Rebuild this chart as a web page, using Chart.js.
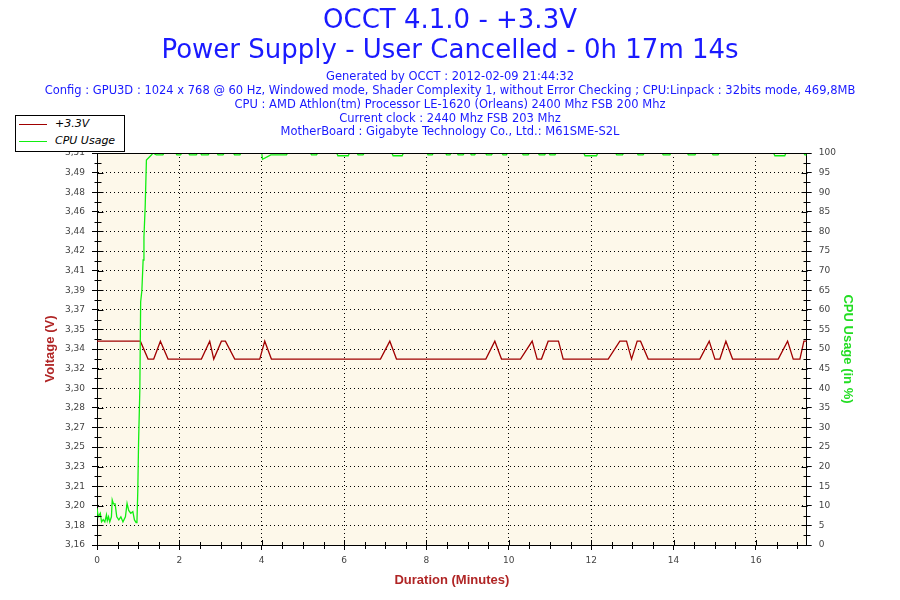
<!DOCTYPE html>
<html>
<head>
<meta charset="utf-8">
<title>OCCT 4.1.0 - +3.3V</title>
<script src="https://cdn.jsdelivr.net/npm/chart.js@4.4.1/dist/chart.umd.min.js"></script>
<style>
  body { margin: 0; background: #fff; }
  #wrap { position: relative; width: 900px; height: 600px; }
  #chart { display: block; background: #fff; }
  #legend {
    position: absolute; left: 15px; top: 115px; width: 108px; height: 35px;
    border: 1px solid #000; background: #fff;
    font: italic 11px "DejaVu Sans", sans-serif; color: #000;
  }
  #legend .row { position: absolute; left: 0; width: 100%; height: 17px; }
  #legend .swatch { position: absolute; left: 3px; top: 8px; width: 28px; height: 1px; }
  #legend .lbl { position: absolute; left: 39px; top: 1px; white-space: nowrap; }
</style>
</head>
<body>
<div id="wrap">
  <canvas id="chart" width="900" height="600"></canvas>
  <div id="legend"></div>
</div>
<script>
// ---- data ----
const titleLines = ['OCCT 4.1.0 - +3.3V', 'Power Supply - User Cancelled - 0h 17m 14s'];
const infoLines = [
  'Generated by OCCT : 2012-02-09 21:44:32',
  'Config : GPU3D : 1024 x 768 @ 60 Hz, Windowed mode, Shader Complexity 1, without Error Checking ; CPU:Linpack : 32bits mode, 469,8MB',
  'CPU : AMD Athlon(tm) Processor LE-1620 (Orleans) 2400 Mhz FSB 200 Mhz',
  'Current clock : 2440 Mhz FSB 203 Mhz',
  'MotherBoard : Gigabyte Technology Co., Ltd.: M61SME-S2L'
];

const durationMax = 17.233; // 17m 14s

const voltTickLabels = ['3,16', '3,18', '3,20', '3,21', '3,23', '3,25', '3,27', '3,28', '3,30', '3,32', '3,34',
  '3,35', '3,37', '3,39', '3,41', '3,42', '3,44', '3,46', '3,48', '3,49', '3,51'];

// +3.3V rail (V) against duration (minutes)
const voltTimes = [0, 1.053, 1.240, 1.377, 1.539, 1.725, 2.535, 2.737, 2.835, 3.021, 3.118, 3.345,
  3.952, 4.073, 4.235, 6.883, 7.110, 7.272, 9.441, 9.660, 9.822, 10.283, 10.567, 10.688, 10.793,
  10.955, 11.206, 11.320, 12.413, 12.696, 12.858, 12.980, 13.117, 13.198, 13.384, 14.639, 14.866,
  15.004, 15.125, 15.271, 15.433, 16.542, 16.769, 16.906, 17.068, 17.165, 17.233];
const voltValues = [3.342, 3.342, 3.326, 3.326, 3.342, 3.326, 3.326, 3.342, 3.326, 3.342, 3.342, 3.326,
  3.326, 3.342, 3.326, 3.326, 3.342, 3.326, 3.326, 3.342, 3.326, 3.326, 3.342, 3.326, 3.326,
  3.342, 3.342, 3.326, 3.326, 3.342, 3.342, 3.326, 3.342, 3.342, 3.326, 3.326, 3.342,
  3.326, 3.326, 3.342, 3.326, 3.326, 3.342, 3.326, 3.326, 3.342, 3.342];

// CPU usage (%) against duration (minutes)
const cpuTimes = [0, 0.03, 0.08, 0.11, 0.15, 0.19, 0.23, 0.25, 0.28, 0.31, 0.35, 0.37, 0.40, 0.44, 0.48,
  0.53, 0.58, 0.63, 0.69, 0.73, 0.77, 0.82, 0.87, 0.91, 0.95, 0.97, 0.99, 1.01, 1.04, 1.06, 1.09,
  1.12, 1.14, 1.17, 1.20, 1.32, 1.36,
  1.44, 1.60, 1.63, 1.91, 1.94, 2.03, 2.06, 2.22, 2.25, 2.41, 2.44, 2.51, 2.54, 2.70, 2.73,
  2.91, 2.94, 3.06, 3.09, 3.31, 3.34, 3.47, 3.50, 4.00, 4.02, 4.22, 4.60, 4.63,
  5.18, 5.21, 5.33, 5.36, 5.82, 5.85, 6.10, 6.13, 6.31, 6.34, 6.46, 6.49,
  7.16, 7.19, 7.41, 7.44, 8.01, 8.04, 8.14, 8.17, 8.46, 8.49, 8.57, 8.60,
  8.74, 8.77, 8.89, 8.92, 9.06, 9.09, 9.17, 9.20, 9.43, 9.46, 9.58, 9.61,
  9.83, 9.86, 9.94, 9.97, 10.32, 10.35, 10.47, 10.50, 10.71, 10.74, 10.87, 10.90,
  10.97, 11.00, 11.12, 11.15, 11.82, 11.85, 12.13, 12.16, 12.59, 12.62, 12.76, 12.79,
  13.11, 13.14, 13.26, 13.29, 13.72, 13.75, 13.91, 13.94, 14.33, 14.36, 14.52, 14.55,
  14.93, 14.96, 15.08, 15.11, 16.43, 16.46, 16.70, 16.73, 17.16, 17.19, 17.233];
const cpuValues = [9.4, 7.2, 8.1, 5.9, 6.5, 5.9, 7.7, 6.2, 7.2, 5.9, 7.2, 11.5, 10.5, 10.5, 7.2,
  6.4, 7.2, 5.9, 7.2, 10.6, 8.8, 8.1, 8.5, 6.4, 5.7, 5.9, 13.6, 26.4, 39.5, 62, 65,
  72.7, 78.6, 86.3, 98.2, 99.5, 100,
  99.5, 99.5, 100, 100, 99.5, 99.5, 100, 100, 99.5, 99.5, 100, 100, 99.5, 99.5, 100,
  100, 99.5, 99.5, 100, 100, 99.5, 99.5, 100, 100, 98.4, 99.5, 99.5, 100,
  100, 99.5, 99.5, 100, 100, 99.3, 99.3, 100, 100, 99.5, 99.5, 100,
  100, 99.3, 99.3, 100, 100, 99.5, 99.5, 100, 100, 99.5, 99.5, 100,
  100, 99.5, 99.5, 100, 100, 99.5, 99.5, 100, 100, 99.5, 99.5, 100,
  100, 99.5, 99.5, 100, 100, 99.5, 99.5, 100, 100, 99.5, 99.5, 100,
  100, 99.5, 99.5, 100, 100, 99.3, 99.3, 100, 100, 99.5, 99.5, 100,
  100, 99.5, 99.5, 100, 100, 99.5, 99.5, 100, 100, 99.5, 99.5, 100,
  100, 99.5, 99.5, 100, 100, 99.3, 99.3, 100, 100, 99.5, 99.5];

// ---- styling ----
const titleBlue = '#1a1aff';
const voltColor = '#a00000';
const cpuColor = '#11ee11';
const voltTitleColor = '#b02525';
const cpuTitleColor = '#22dd22';
const plotBg = '#fdf8ea';
const tickFont = { family: 'DejaVu Sans', size: 9 };
const axisTitleFont = { family: 'Liberation Sans', size: 13, weight: 'bold' };

// plot background, top frame line and the inner/minor tick marks
const frame = {
  id: 'frame',
  beforeDraw(chart) {
    const { ctx, chartArea: a } = chart;
    ctx.save();
    ctx.fillStyle = plotBg;
    ctx.fillRect(a.left, a.top, a.right - a.left, a.bottom - a.top);
    ctx.restore();
  },
  afterDatasetsDraw(chart) {
    const { ctx, chartArea: a, scales } = chart;
    const px = v => Math.round(v) + 0.5;
    ctx.save();
    ctx.strokeStyle = '#000';
    ctx.lineWidth = 1;
    ctx.beginPath();
    ctx.moveTo(a.left, px(a.top));
    ctx.lineTo(a.right + 1, px(a.top));

    // vertical axes: major ticks poke 6px inward, minor ticks halfway between
    const yTicks = (scale, edge, dir) => {
      const t = scale.ticks;
      t.forEach((tk, i) => {
        const y = px(scale.getPixelForValue(tk.value));
        ctx.moveTo(edge, y);
        ctx.lineTo(edge + dir * 6, y);
        if (i < t.length - 1) {
          const ym = px(scale.getPixelForValue((tk.value + t[i + 1].value) / 2));
          ctx.moveTo(edge - dir * 3, ym);
          ctx.lineTo(edge + dir * 4, ym);
        }
      });
    };
    yTicks(scales.volt, px(a.left), 1);
    yTicks(scales.cpu, px(a.right), -1);

    // x axis: majors every 2 min poke up, minors every half minute
    const xs = scales.x;
    xs.ticks.forEach(tk => {
      const x = px(xs.getPixelForValue(tk.value));
      ctx.moveTo(x, a.bottom);
      ctx.lineTo(x, a.bottom - 5);
    });
    for (let m = 0.5; m < xs.max; m += 0.5) {
      if (m % 2 === 0) continue;
      const x = px(xs.getPixelForValue(m));
      ctx.moveTo(x, a.bottom - 3);
      ctx.lineTo(x, a.bottom + 4);
    }
    ctx.stroke();
    ctx.restore();
  }
};

const ctx = document.getElementById('chart').getContext('2d');
const chart = new Chart(ctx, {
  type: 'line',
  data: {
    datasets: [{
      label: '+3.3V',
      data: voltTimes.map((t, i) => ({ x: t, y: voltValues[i] })),
      yAxisID: 'volt',
      borderColor: voltColor,
      borderWidth: 1.3,
      pointRadius: 0,
      tension: 0,
      order: 2
    }, {
      label: 'CPU Usage',
      data: cpuTimes.map((t, i) => ({ x: t, y: cpuValues[i] })),
      yAxisID: 'cpu',
      borderColor: cpuColor,
      borderWidth: 1.3,
      pointRadius: 0,
      tension: 0,
      order: 1
    }]
  },
  options: {
    responsive: false,
    animation: false,
    devicePixelRatio: 1,
    layout: { padding: 0 },
    plugins: {
      legend: { display: false },
      tooltip: { enabled: false },
      title: {
        display: true,
        text: titleLines,
        color: titleBlue,
        font: { family: 'DejaVu Sans', size: 26, weight: 'normal', lineHeight: '30px' },
        padding: { top: 6, bottom: 0 }
      },
      subtitle: {
        display: true,
        text: infoLines,
        color: titleBlue,
        font: { family: 'DejaVu Sans', size: 11.5, lineHeight: '13.75px' },
        padding: { top: 4.4, bottom: 13.85 }
      }
    },
    scales: {
      x: {
        type: 'linear',
        min: 0,
        max: durationMax,
        ticks: { stepSize: 2, includeBounds: false, color: '#444', font: tickFont, padding: 5, maxRotation: 0 },
        grid: { color: '#000', tickColor: '#000', tickLength: 5 },
        border: { color: '#000', dash: [1, 3] },
        title: { display: true, text: 'Duration (Minutes)', color: voltTitleColor, font: axisTitleFont, padding: { top: 0, bottom: 12.2 } },
        afterFit(s) { s.height = 55; }
      },
      volt: {
        type: 'linear',
        position: 'left',
        min: 3.16,
        max: 3.51,
        ticks: {
          stepSize: 0.0175,
          autoSkip: false,
          color: '#444',
          font: tickFont,
          padding: 7,
          callback: v => voltTickLabels[Math.round((v - 3.16) / 0.0175)]
        },
        grid: { color: '#000', tickColor: '#000', tickLength: 5 },
        border: { color: '#000', dash: [1, 3] },
        title: { display: true, text: 'Voltage (V)', color: voltTitleColor, font: axisTitleFont, padding: { top: 42.2, bottom: 0 } },
        afterFit(s) { s.width = 97; }
      },
      cpu: {
        type: 'linear',
        position: 'right',
        min: 0,
        max: 100,
        ticks: { stepSize: 5, autoSkip: false, color: '#444', font: tickFont, padding: 7 },
        grid: { drawOnChartArea: false, color: '#000', tickColor: '#000', tickLength: 5 },
        border: { color: '#000' },
        title: { display: true, text: 'CPU Usage (in %)', color: cpuTitleColor, font: axisTitleFont, padding: { top: 44.2, bottom: 0 } },
        afterFit(s) { s.width = 93.3; }
      }
    }
  },
  plugins: [frame]
});

// boxed legend in the top-left corner, like OCCT draws it
const legend = document.getElementById('legend');
chart.data.datasets.forEach((ds, i) => {
  const row = document.createElement('div');
  row.className = 'row';
  row.style.top = (i * 17) + 'px';
  row.innerHTML = '<div class="swatch" style="background:' + ds.borderColor + '"></div>' +
    '<span class="lbl">' + ds.label + '</span>';
  legend.appendChild(row);
});
</script>
</body>
</html>
